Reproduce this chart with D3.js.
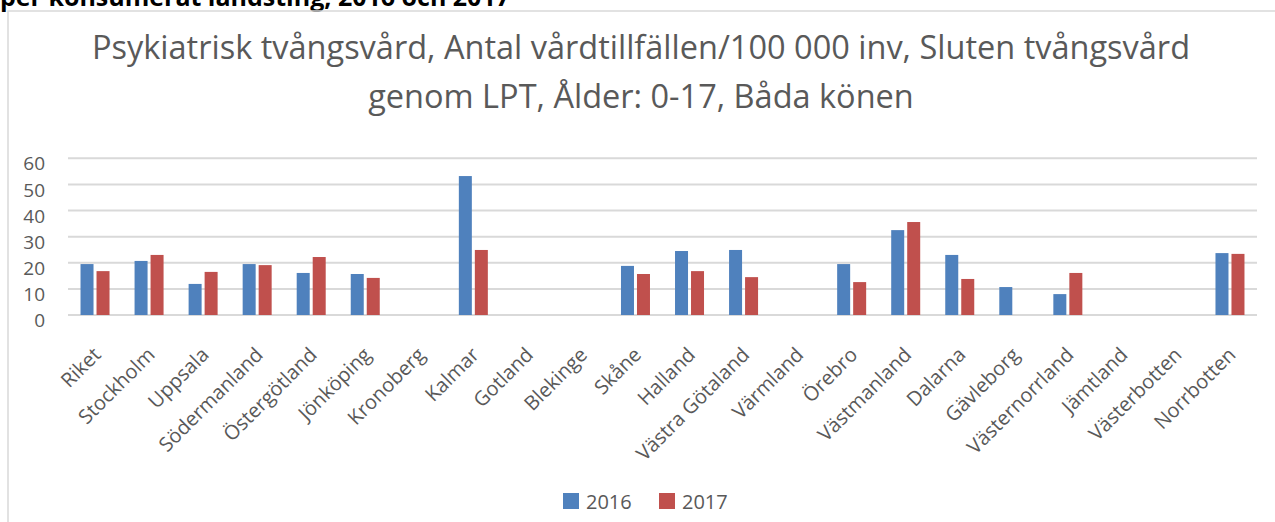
<!DOCTYPE html>
<html><head><meta charset="utf-8">
<script src="https://cdn.jsdelivr.net/npm/d3@7"></script>
<style>body{margin:0;background:#fff;overflow:hidden}svg{display:block;font-family:"Open Sans",sans-serif}</style>
</head><body>
<svg id="c" width="1275" height="522"></svg>
<script>
const categories = ["Riket","Stockholm","Uppsala","Södermanland","Östergötland","Jönköping","Kronoberg","Kalmar","Gotland","Blekinge","Skåne","Halland","Västra Götaland","Värmland","Örebro","Västmanland","Dalarna","Gävleborg","Västernorrland","Jämtland","Västerbotten","Norrbotten"];
const values2016 = [19.5,20.7,11.9,19.5,16.1,15.7,null,53.2,null,null,18.8,24.5,24.9,null,19.5,32.5,23.0,10.7,8.0,null,null,23.7];
const values2017 = [16.8,23.0,16.5,19.1,22.2,14.2,null,24.9,null,null,15.7,16.8,14.5,null,12.6,35.6,13.8,null,16.1,null,null,23.4];
const seriesNames = ["2016","2017"];
const yTicks = [0,10,20,30,40,50,60];
const titleLines = ["Psykiatrisk tvångsvård, Antal vårdtillfällen/100 000 inv, Sluten tvångsvård","genom LPT, Ålder: 0-17, Båda könen"];
const headingText = "per konsumerat landsting, 2016 och 2017";
const colors = ["#4F81BD","#C0504D"];

const svg = d3.select("#c");
// heading of the surrounding document, clipped at the top edge as in the reference
svg.append("text").attr("x",0).attr("y",6).attr("font-weight","bold").attr("font-size",25).attr("fill","#000").text(headingText);
// chart border
svg.append("rect").attr("x",8).attr("y",11).attr("width",1300).attr("height",600).attr("fill","none").attr("stroke","#d9d9d9").attr("stroke-width",1.5);

svg.selectAll("text.title").data(titleLines).enter().append("text")
  .attr("class","title")
  .attr("x",641).attr("y",(d,i)=>59+i*49).attr("text-anchor","middle")
  .attr("font-size",32.5).attr("fill","#595959").text(d=>d);

const x0 = d3.scaleBand().domain(categories).range([68,1257]);
const y = d3.scaleLinear().domain([0,60]).range([315,158.3]);

const grid = svg.append("g");
grid.selectAll("line").data(yTicks).enter().append("line")
  .attr("x1",68).attr("x2",1257).attr("y1",d=>y(d)).attr("y2",d=>y(d))
  .attr("stroke","#d9d9d9").attr("stroke-width",2);

const yAxis = d3.axisLeft(y).tickValues(yTicks).tickSize(0).tickPadding(0);
const ga = svg.append("g").attr("transform","translate(45,5)").call(yAxis);
ga.select(".domain").remove();
ga.selectAll("text").attr("font-size",19).attr("fill","#595959").attr("font-family","'Open Sans',sans-serif").attr("dy","0.35em");

const series = [values2016, values2017];
const bw = 13, gap = 3;
series.forEach((vals,si)=>{
  svg.append("g").selectAll("rect").data(categories.map((c,i)=>({c,v:vals[i]})).filter(d=>d.v!=null))
    .enter().append("rect")
    .attr("x",d=>x0(d.c)+x0.bandwidth()/2 + (si===0 ? -(bw+gap/2) : gap/2))
    .attr("width",bw)
    .attr("y",d=>y(d.v)).attr("height",d=>y(0)-y(d.v))
    .attr("fill",colors[si]);
});

const xAxis = d3.axisBottom(x0).tickSize(0).tickPadding(0);
const gx = svg.append("g").attr("transform","translate(0,328)").call(xAxis);
gx.select(".domain").remove();
gx.selectAll("text").attr("font-size",20).attr("fill","#595959").attr("font-family","'Open Sans',sans-serif")
  .attr("text-anchor","end").attr("x",0).attr("y",0).attr("dy",0).attr("dx",0)
  .attr("transform","translate(7,28) rotate(-45)");

// legend
const lg = svg.append("g");
const lx = [563,659];
seriesNames.forEach((n,i)=>{
  lg.append("rect").attr("x",lx[i]).attr("y",493).attr("width",16).attr("height",16).attr("fill",colors[i]);
  lg.append("text").attr("x",lx[i]+23).attr("y",509).attr("font-size",20).attr("fill","#595959").text(n);
});
</script>
</body></html>
